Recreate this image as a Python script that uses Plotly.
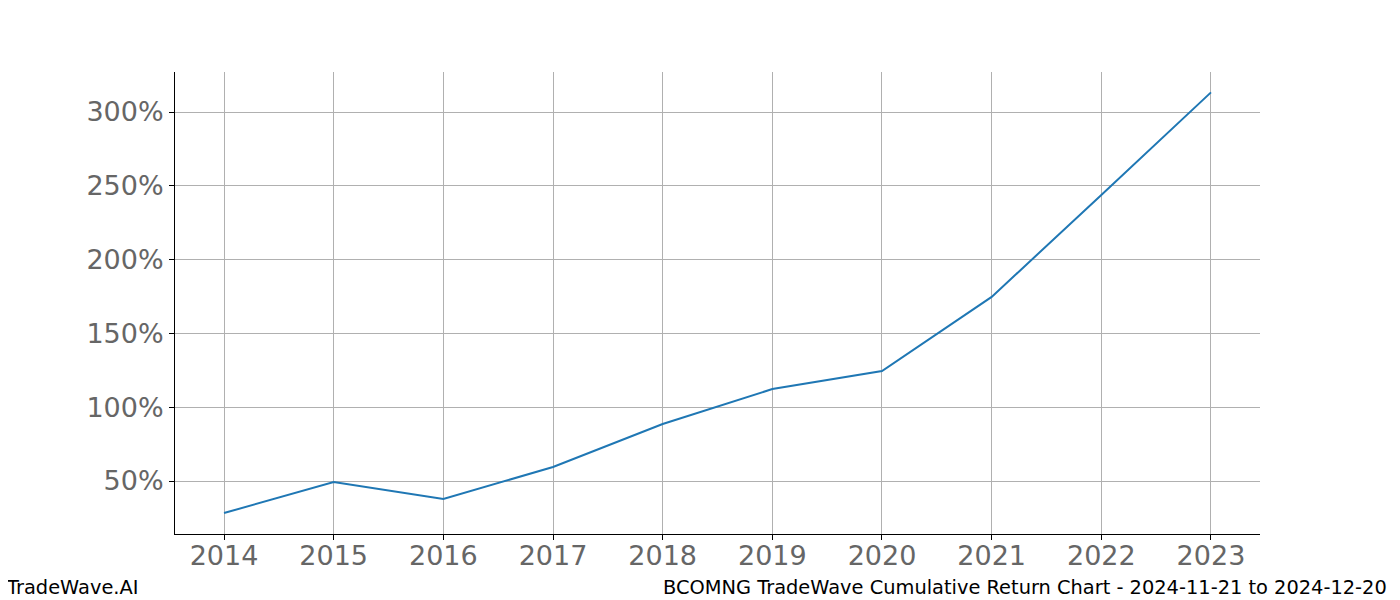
import plotly.graph_objects as go

years = [2014, 2015, 2016, 2017, 2018, 2019, 2020, 2021, 2022, 2023]
returns = [28.3, 49.3, 37.8, 59.5, 88.6, 112.3, 124.5, 174.7, 243.8, 313.3]
y_ticks = [50, 100, 150, 200, 250, 300]
y_tick_labels = ["50%", "100%", "150%", "200%", "250%", "300%"]
footer_left = "TradeWave.AI"
footer_right = "BCOMNG TradeWave Cumulative Return Chart - 2024-11-21 to 2024-12-20"

fig = go.Figure()
fig.add_trace(go.Scatter(x=years, y=returns, mode="lines",
                         line=dict(color="#1f77b4", width=2), showlegend=False))

font = "DejaVu Sans, sans-serif"
fig.update_layout(
    width=1400, height=600,
    margin=dict(l=167, r=148, t=64, b=74),
    paper_bgcolor="white", plot_bgcolor="white",
    font=dict(family=font),
    xaxis=dict(range=[2013.553, 2023.447], tickvals=years, ticktext=[str(y) for y in years],
               showgrid=True, gridcolor="#b0b0b0", gridwidth=1,
               showline=True, linecolor="black", linewidth=1, mirror=False,
               ticks="outside", ticklen=5, tickcolor="black", ticklabelstandoff=-7,
               tickfont=dict(size=27, color="#666666", family=font), zeroline=False),
    yaxis=dict(range=[14.1, 327.1], tickvals=y_ticks, ticktext=y_tick_labels,
               showgrid=True, gridcolor="#b0b0b0", gridwidth=1,
               showline=True, linecolor="black", linewidth=1, mirror=False,
               ticks="outside", ticklen=5, tickcolor="black",
               tickfont=dict(size=27, color="#666666", family=font), zeroline=False),
    annotations=[
        dict(text=footer_left, xref="paper", yref="paper", x=0, y=0, xanchor="left", yanchor="middle",
             xshift=-171, yshift=-53, showarrow=False, font=dict(size=19.4, color="black", family=font)),
        dict(text=footer_right, xref="paper", yref="paper", x=1, y=0, xanchor="right", yanchor="middle",
             xshift=129, yshift=-53, showarrow=False, font=dict(size=19.4, color="black", family=font)),
    ],
)
fig.write_html("out.html")
